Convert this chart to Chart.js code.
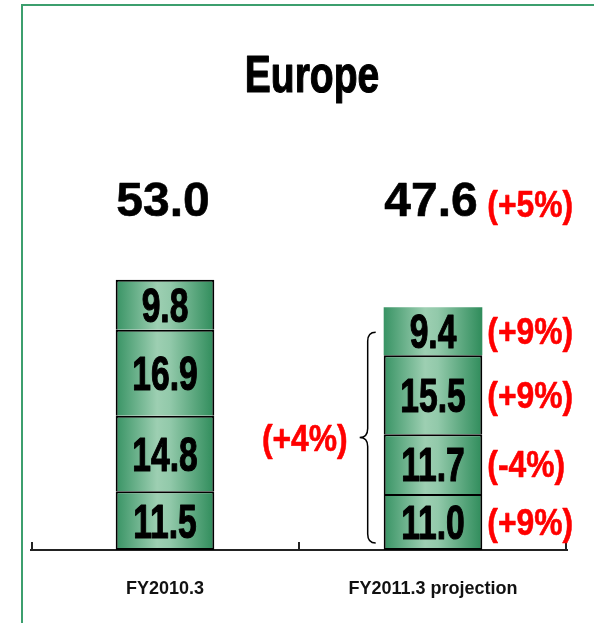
<!DOCTYPE html>
<html>
<head>
<meta charset="utf-8">
<script src="https://cdn.jsdelivr.net/npm/chart.js@4.4.1/dist/chart.umd.min.js"></script>
<style>
  body { margin: 0; background: #fff; }
  canvas { display: block; }
</style>
</head>
<body>
<canvas id="chart" width="594" height="623"></canvas>
<script>
// データ（下の段から順に）
const chartTitle = "Europe";
const categories = ["FY2010.3", "FY2011.3 projection"];
const seg1 = [11.5, 11.0];
const seg2 = [14.8, 11.7];
const seg3 = [16.9, 15.5];
const seg4 = [9.8, 9.4];
const segGrowth = ["(+9%)", "(-4%)", "(+9%)", "(+9%)"];  // 2本目の各段の伸び率
const totalGrowth = "(+5%)";
const braceGrowth = "(+4%)";  // 下3段の伸び率

const segments = [seg1, seg2, seg3, seg4];
const totals = categories.map((c, i) => segments.reduce((s, arr) => s + arr[i], 0));

const BAR_PCT = 0.368;
const FONT = '"Liberation Sans", Arial, sans-serif';

// 横方向グラデーション（両端が濃い緑、中央が明るい）
function barGradient(ctx) {
    const chart = ctx.chart;
    if (!chart.chartArea) return "#5aaa80";
    const x = chart.scales.x;
    const cx = x.getPixelForValue(ctx.dataIndex);
    const w = (x.width / categories.length) * BAR_PCT;
    const g = chart.ctx.createLinearGradient(cx - w / 2, 0, cx + w / 2, 0);
    g.addColorStop(0, "#389364");
    g.addColorStop(0.42, "#9dcfb2");
    g.addColorStop(0.55, "#92c9aa");
    g.addColorStop(1, "#2f8c5b");
    return g;
}

// 文字を描く（sxで横方向に詰める、strokeで太く）
function drawText(ctx, text, x, y, size, color, align, sx, stroke) {
    ctx.save();
    ctx.translate(x, y);
    ctx.scale(sx, 1);
    ctx.font = "bold " + size + "px " + FONT;
    ctx.fillStyle = color;
    ctx.textAlign = align;
    ctx.textBaseline = "alphabetic";
    ctx.fillText(text, 0, 0);
    if (stroke) {
        ctx.strokeStyle = color;
        ctx.lineWidth = stroke;
        ctx.lineJoin = "round";
        ctx.strokeText(text, 0, 0);
    }
    ctx.restore();
}

const decorPlugin = {
    id: "decor",
    beforeDraw(chart) {
        const ctx = chart.ctx;
        ctx.save();
        ctx.fillStyle = "#fff";
        ctx.fillRect(0, 0, chart.width, chart.height);
        // 外枠（緑）
        ctx.strokeStyle = "#3c9f6e";
        ctx.lineWidth = 2;
        ctx.beginPath();
        ctx.moveTo(22, chart.height);
        ctx.lineTo(22, 5);
        ctx.lineTo(chart.width, 5);
        ctx.stroke();
        ctx.restore();
    },
    afterDatasetsDraw(chart) {
        const ctx = chart.ctx;
        const x = chart.scales.x, y = chart.scales.y;
        const base = y.getPixelForValue(0);

        // 軸の目盛り（上向き）
        ctx.save();
        ctx.strokeStyle = "#222";
        ctx.lineWidth = 2;
        const mid = (x.getPixelForValue(0) + x.getPixelForValue(1)) / 2;
        [x.left + 1, mid, x.right - 1].forEach(px => {
            ctx.beginPath();
            ctx.moveTo(px, base);
            ctx.lineTo(px, base - 8);
            ctx.stroke();
        });
        ctx.restore();

        // 各段の数値
        segments.forEach((arr, d) => {
            chart.getDatasetMeta(d).data.forEach((el, i) => {
                const cy = (el.y + el.base) / 2;
                drawText(ctx, arr[i].toFixed(1), el.x, cy + 17, 48, "#000", "center", 0.7, 1.2);
                if (i === 1) {
                    drawText(ctx, segGrowth[d], el.x + el.width / 2 + 5, cy + 13, 37, "#ff0000", "left", 0.86, 0.6);
                }
            });
        });

        // 合計
        totals.forEach((t, i) => {
            drawText(ctx, t.toFixed(1), x.getPixelForValue(i) - 2, 216, 48, "#000", "center", 1, 0.6);
        });
        const bar2 = chart.getDatasetMeta(0).data[1];
        drawText(ctx, totalGrowth, bar2.x + bar2.width / 2 + 5, 217, 37, "#ff0000", "left", 0.86, 0.6);

        // 中かっこ（下3段）
        const top = y.getPixelForValue(seg1[1] + seg2[1] + seg3[1]) - 23;
        const bot = base - 7;
        const bx = bar2.x - bar2.width / 2 - 16;
        const my = (top + bot) / 2;
        ctx.save();
        ctx.strokeStyle = "#000";
        ctx.lineWidth = 1.5;
        ctx.beginPath();
        ctx.moveTo(bx + 8, top);
        ctx.quadraticCurveTo(bx, top, bx, top + 9);
        ctx.lineTo(bx, my - 9);
        ctx.quadraticCurveTo(bx, my, bx - 8, my);
        ctx.quadraticCurveTo(bx, my, bx, my + 9);
        ctx.lineTo(bx, bot - 9);
        ctx.quadraticCurveTo(bx, bot, bx + 8, bot);
        ctx.stroke();
        ctx.restore();
        drawText(ctx, braceGrowth, bx - 20, my + 13, 37, "#ff0000", "right", 0.86, 0.6);

        // タイトル
        drawText(ctx, chartTitle, 312, 92, 52, "#000", "center", 0.75, 1.2);
    }
};

const chart = new Chart(document.getElementById("chart").getContext("2d"), {
    type: "bar",
    data: {
        labels: categories,
        datasets: segments.map((arr, d) => ({
            data: arr,
            backgroundColor: barGradient,
            borderColor: "#000",
            borderWidth: d === 3 ? [2, 0] : 2,
            borderSkipped: d === 0 ? false : "bottom",  // 段の境目は1本線に
            barPercentage: BAR_PCT,
            categoryPercentage: 1
        }))
    },
    options: {
        responsive: false,
        animation: false,
        devicePixelRatio: 1,
        layout: { padding: { left: 31, right: 27, top: 193, bottom: 0 } },
        plugins: { legend: { display: false }, tooltip: { enabled: false }, title: { display: false } },
        scales: {
            x: {
                stacked: true,
                grid: { display: false, drawTicks: false },
                border: { display: true, color: "#222", width: 2 },
                ticks: {
                    color: "#111",
                    padding: 28,
                    font: { family: FONT, size: 18, weight: "bold" }
                },
                afterFit(scale) { scale.height = 73; }
            },
            y: {
                stacked: true,
                display: false,
                min: 0,
                max: 70
            }
        }
    },
    plugins: [decorPlugin]
});
</script>
</body>
</html>
